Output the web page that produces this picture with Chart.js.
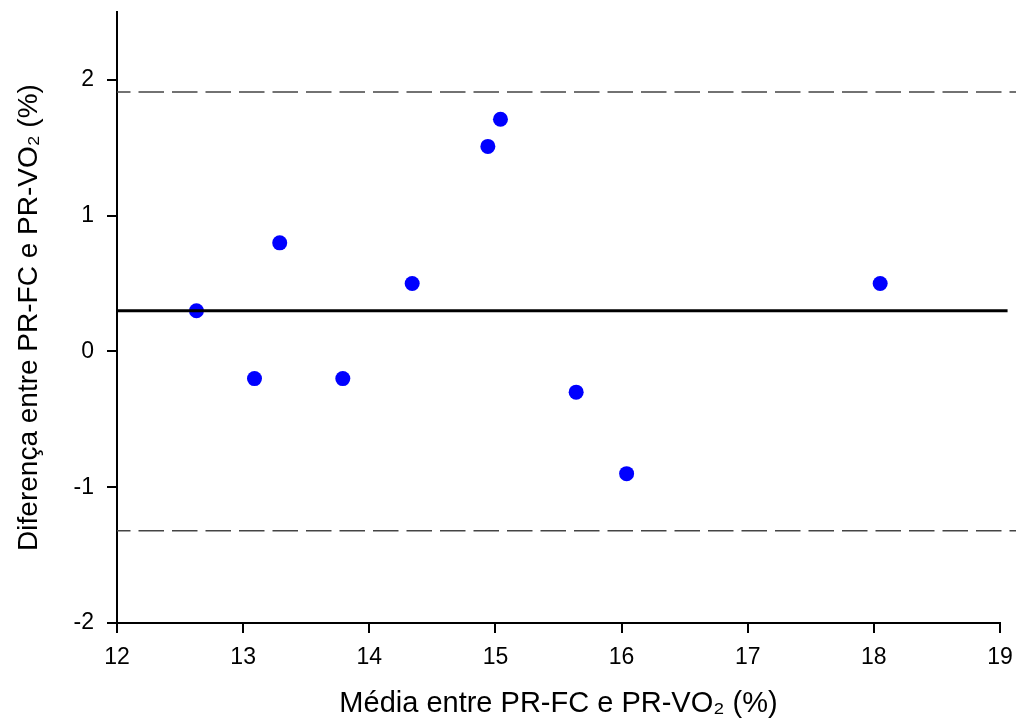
<!DOCTYPE html>
<html>
<head>
<meta charset="utf-8">
<script src="https://cdn.jsdelivr.net/npm/chart.js@4"></script>
<style>
  html, body { margin: 0; padding: 0; background: #fff; }
  #wrap { width: 1016px; height: 727px; }
</style>
</head>
<body>
<div id="wrap"><canvas id="baChart" width="1016" height="727"></canvas></div>
<script>
// Bland-Altman: média x diferença
const meanX = [12.63, 13.09, 13.29, 13.79, 14.34, 14.94, 15.04, 15.64, 16.04, 18.05];
const diffY = [0.30, -0.20, 0.80, -0.20, 0.50, 1.51, 1.71, -0.30, -0.90, 0.50];
const bias = 0.30;
const upperLimit = 1.91;
const lowerLimit = -1.32;
const lineX = [12, 19.06];
const limitX = [12, 19.13];
const xTicks = [12, 13, 14, 15, 16, 17, 18, 19];
const yTicks = [-2, -1, 0, 1, 2];

const fontFamily = '"Liberation Sans", Arial, Helvetica, sans-serif';

const points = meanX.map((x, i) => ({ x: x, y: diffY[i] }));
const hLine = (xs, y) => xs.map(x => ({ x: x, y: y }));

const ctx = document.getElementById('baChart').getContext('2d');
new Chart(ctx, {
    type: 'scatter',
    data: {
        datasets: [
            {
                label: 'bias',
                data: hLine(lineX, bias),
                showLine: true,
                borderColor: '#000',
                borderWidth: 3,
                pointRadius: 0,
                clip: false,
                order: 1
            },
            {
                label: 'upper',
                data: hLine(limitX, upperLimit),
                showLine: true,
                borderColor: '#444',
                borderWidth: 1.5,
                borderDash: [25.5, 8],
                borderDashOffset: 12,
                pointRadius: 0,
                clip: false,
                order: 1
            },
            {
                label: 'lower',
                data: hLine(limitX, lowerLimit),
                showLine: true,
                borderColor: '#444',
                borderWidth: 1.5,
                borderDash: [25.5, 8],
                borderDashOffset: 12,
                pointRadius: 0,
                clip: false,
                order: 1
            },
            {
                label: 'pontos',
                data: points,
                backgroundColor: '#0000ff',
                borderWidth: 0,
                pointRadius: 7.5,
                pointHoverRadius: 7.5,
                clip: false,
                order: 2
            }
        ]
    },
    options: {
        responsive: false,
        animation: false,
        events: [],
        layout: { padding: { top: 12, right: 16, left: 0, bottom: 0 } },
        plugins: {
            legend: { display: false },
            tooltip: { enabled: false }
        },
        scales: {
            x: {
                type: 'linear',
                min: 12,
                max: 19,
                afterFit: s => { s.height = 104; s.paddingLeft = 0; s.paddingRight = 0; },
                afterBuildTicks: s => { s.ticks = xTicks.map(v => ({ value: v })); },
                grid: { drawOnChartArea: false, drawTicks: true, tickLength: 10, color: '#000', lineWidth: 2 },
                border: { display: true, color: '#000', width: 2 },
                ticks: {
                    color: '#000',
                    padding: 11,
                    maxRotation: 0,
                    font: { family: fontFamily, size: 23 }
                },
                title: {
                    display: true,
                    text: 'Média entre PR-FC e PR-VO₂ (%)',
                    color: '#000',
                    padding: { top: 0, bottom: 6 },
                    font: { family: fontFamily, size: 29 }
                }
            },
            y: {
                type: 'linear',
                min: -2,
                max: 2.5,
                afterFit: s => { s.width = 117; s.paddingTop = 0; s.paddingBottom = 0; },
                afterBuildTicks: s => { s.ticks = yTicks.map(v => ({ value: v })); },
                grid: { drawOnChartArea: false, drawTicks: true, tickLength: 10, color: '#000', lineWidth: 2 },
                border: { display: true, color: '#000', width: 2 },
                ticks: {
                    color: '#000',
                    padding: 13,
                    font: { family: fontFamily, size: 23 }
                },
                title: {
                    display: true,
                    text: 'Diferença entre PR-FC e PR-VO₂ (%)',
                    color: '#000',
                    padding: { top: 12, bottom: 0 },
                    font: { family: fontFamily, size: 28 }
                }
            }
        }
    }
});
</script>
</body>
</html>
